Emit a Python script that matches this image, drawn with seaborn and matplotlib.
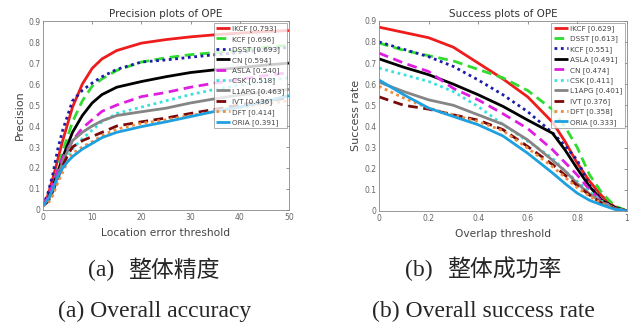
import numpy as np
import matplotlib
matplotlib.use("Agg")
import matplotlib.pyplot as plt
import seaborn as sns

# --- precision plot data (location error threshold) ---
prec_x = [0, 1, 2, 3, 4, 5, 6, 8, 10, 12, 15, 20, 25, 30, 35, 40, 45, 50]
prec_ikcf = [0.02, 0.07, 0.15, 0.24, 0.33, 0.41, 0.49, 0.60, 0.675, 0.72, 0.76, 0.795, 0.812, 0.825, 0.835, 0.843, 0.85, 0.855]
prec_kcf = [0.02, 0.06, 0.12, 0.20, 0.28, 0.35, 0.42, 0.52, 0.59, 0.625, 0.665, 0.705, 0.725, 0.74, 0.75, 0.76, 0.775, 0.785]
prec_dsst = [0.02, 0.08, 0.17, 0.29, 0.38, 0.45, 0.52, 0.57, 0.605, 0.635, 0.67, 0.705, 0.715, 0.728, 0.74, 0.75, 0.765, 0.775]
prec_cn = [0.02, 0.05, 0.11, 0.18, 0.25, 0.31, 0.37, 0.45, 0.51, 0.55, 0.585, 0.612, 0.635, 0.655, 0.668, 0.678, 0.69, 0.70]
prec_asla = [0.02, 0.06, 0.12, 0.19, 0.25, 0.29, 0.33, 0.39, 0.43, 0.47, 0.50, 0.54, 0.56, 0.585, 0.605, 0.622, 0.64, 0.655]
prec_csk = [0.02, 0.04, 0.08, 0.14, 0.20, 0.25, 0.29, 0.34, 0.38, 0.42, 0.46, 0.49, 0.52, 0.55, 0.575, 0.595, 0.615, 0.63]
prec_l1apg = [0.02, 0.04, 0.09, 0.16, 0.23, 0.28, 0.33, 0.37, 0.40, 0.425, 0.45, 0.468, 0.485, 0.51, 0.53, 0.548, 0.563, 0.575]
prec_ivt = [0.02, 0.04, 0.09, 0.15, 0.21, 0.26, 0.30, 0.33, 0.35, 0.37, 0.40, 0.42, 0.438, 0.46, 0.48, 0.50, 0.518, 0.535]
prec_dft = [0.02, 0.03, 0.07, 0.13, 0.18, 0.23, 0.27, 0.30, 0.325, 0.355, 0.385, 0.413, 0.43, 0.45, 0.47, 0.49, 0.505, 0.52]
prec_oria = [0.02, 0.05, 0.10, 0.16, 0.20, 0.23, 0.254, 0.29, 0.317, 0.345, 0.37, 0.397, 0.42, 0.445, 0.47, 0.49, 0.515, 0.545]

# --- success plot data (overlap threshold) ---
succ_x = [0, 0.1, 0.2, 0.3, 0.4, 0.5, 0.6, 0.7, 0.75, 0.8, 0.85, 0.9, 0.95, 1.0]
succ_ikcf = [0.87, 0.845, 0.82, 0.775, 0.70, 0.625, 0.54, 0.42, 0.33, 0.226, 0.14, 0.07, 0.02, 0.0]
succ_dsst = [0.795, 0.76, 0.735, 0.71, 0.67, 0.63, 0.57, 0.48, 0.40, 0.30, 0.17, 0.084, 0.025, 0.0]
succ_kcf = [0.80, 0.765, 0.73, 0.684, 0.62, 0.55, 0.47, 0.37, 0.31, 0.24, 0.12, 0.05, 0.015, 0.0]
succ_asla = [0.72, 0.68, 0.645, 0.60, 0.55, 0.495, 0.43, 0.368, 0.29, 0.20, 0.115, 0.05, 0.017, 0.0]
succ_cn = [0.747, 0.70, 0.66, 0.58, 0.526, 0.46, 0.39, 0.29, 0.23, 0.17, 0.10, 0.045, 0.012, 0.0]
succ_csk = [0.676, 0.645, 0.613, 0.565, 0.494, 0.41, 0.33, 0.25, 0.19, 0.14, 0.09, 0.045, 0.012, 0.0]
succ_l1apg = [0.61, 0.565, 0.526, 0.50, 0.455, 0.41, 0.336, 0.24, 0.19, 0.13, 0.08, 0.04, 0.012, 0.0]
succ_ivt = [0.54, 0.50, 0.482, 0.455, 0.43, 0.385, 0.305, 0.22, 0.17, 0.12, 0.075, 0.035, 0.01, 0.0]
succ_dft = [0.59, 0.534, 0.487, 0.455, 0.423, 0.38, 0.297, 0.21, 0.16, 0.11, 0.07, 0.035, 0.01, 0.0]
succ_oria = [0.62, 0.55, 0.487, 0.447, 0.408, 0.355, 0.273, 0.18, 0.13, 0.084, 0.05, 0.028, 0.008, 0.0]

prec_labels = ['IKCF [0.793]', 'KCF [0.696]', 'DSST [0.693]', 'CN [0.594]', 'ASLA [0.540]',
               'CSK [0.518]', 'L1APG [0.463]', 'IVT [0.436]', 'DFT [0.414]', 'ORIA [0.391]']
succ_labels = ['IKCF [0.629]', 'DSST [0.613]', 'KCF [0.551]', 'ASLA [0.491]', 'CN [0.474]',
               'CSK [0.411]', 'L1APG [0.401]', 'IVT [0.376]', 'DFT [0.358]', 'ORIA [0.333]']

# styles follow the rank in the legend (like the OTB toolkit does)
DASH = (0, (3.5, 2))
DOT = (0, (1, 1.3))
RANK_STYLES = [
    ('#ee1c1c', '-'),
    ('#2fdc2f', DASH),
    ('#1c1ca8', DOT),
    ('#000000', '-'),
    ('#e01ee0', DASH),
    ('#3ae0e0', DOT),
    ('#858585', '-'),
    ('#7a0a0a', DASH),
    ('#ee8a3a', DOT),
    ('#1ea0e0', '-'),
]

sns.set_theme(style="white")
plt.rcParams['font.family'] = ['DejaVu Sans']


def draw(ax, x, series, labels, title, xlabel, ylabel):
    for y, lab, (color, ls) in zip(series, labels, RANK_STYLES):
        sns.lineplot(x=x, y=y, ax=ax, color=color, linestyle=ls, linewidth=2.0,
                     label=lab, solid_capstyle='butt')
    ax.set_title(title, fontsize=7.5, color='#333333', pad=3)
    ax.set_xlabel(xlabel, fontsize=7.7, color='#444444', labelpad=4.5)
    ax.set_ylabel(ylabel, fontsize=8, color='#444444', labelpad=2)
    ax.set_ylim(0, 0.9)
    ax.set_yticks(np.arange(0, 0.91, 0.1))
    ax.set_yticklabels(['0'] + [f'{v:.1f}' for v in np.arange(0.1, 0.91, 0.1)])
    ax.tick_params(direction='in', length=2, width=0.5, labelsize=5.5,
                   colors='#666666', top=True, right=True, pad=2)
    for sp in ax.spines.values():
        sp.set_color('#888888')
        sp.set_linewidth(0.6)
    leg = ax.legend(loc='upper right', fontsize=5.2, frameon=True, fancybox=False,
                    borderpad=0.3, labelspacing=0.5, handlelength=2.0,
                    handletextpad=0.3, borderaxespad=0.3)
    leg.get_frame().set_edgecolor('#888888')
    leg.get_frame().set_linewidth(0.6)
    for t in leg.get_texts():
        t.set_color('#444444')


fig = plt.figure(figsize=(6.37, 3.25), dpi=100)
ax1 = fig.add_axes([0.0675, 0.354, 0.386, 0.581])
ax2 = fig.add_axes([0.595, 0.351, 0.389, 0.585])

draw(ax1, prec_x,
     [prec_ikcf, prec_kcf, prec_dsst, prec_cn, prec_asla, prec_csk, prec_l1apg, prec_ivt, prec_dft, prec_oria],
     prec_labels, 'Precision plots of OPE', 'Location error threshold', 'Precision')
ax1.set_xlim(0, 50)
ax1.set_xticks([0, 10, 20, 30, 40, 50])

draw(ax2, succ_x,
     [succ_ikcf, succ_dsst, succ_kcf, succ_asla, succ_cn, succ_csk, succ_l1apg, succ_ivt, succ_dft, succ_oria],
     succ_labels, 'Success plots of OPE', 'Overlap threshold', 'Success rate')
ax2.set_xlim(0, 1)
ax2.set_xticks([0, 0.2, 0.4, 0.6, 0.8, 1])
ax2.set_xticklabels(['0', '0.2', '0.4', '0.6', '0.8', '1'])

# captions below the panels
serif = ['Liberation Serif']
cjk = ['Noto Sans CJK SC']
y_cn = 1 - 270 / 325
y_en = 1 - 311 / 325
fig.text(88 / 637, y_cn, '(a)', ha='left', va='center', fontsize=17, family=serif)
fig.text(128 / 637, y_cn, '整体精度', ha='left', va='center', fontsize=16.5, family=cjk)
fig.text(405 / 637, y_cn, '(b)', ha='left', va='center', fontsize=17, family=serif)
fig.text(447 / 637, y_cn, '整体成功率', ha='left', va='center', fontsize=16.5, family=cjk)
fig.text(58 / 637, y_en, '(a) Overall accuracy', ha='left', va='center', fontsize=17, family=serif)
fig.text(372 / 637, y_en, '(b) Overall success rate', ha='left', va='center', fontsize=17, family=serif)

fig.savefig('out.png', dpi=100)
